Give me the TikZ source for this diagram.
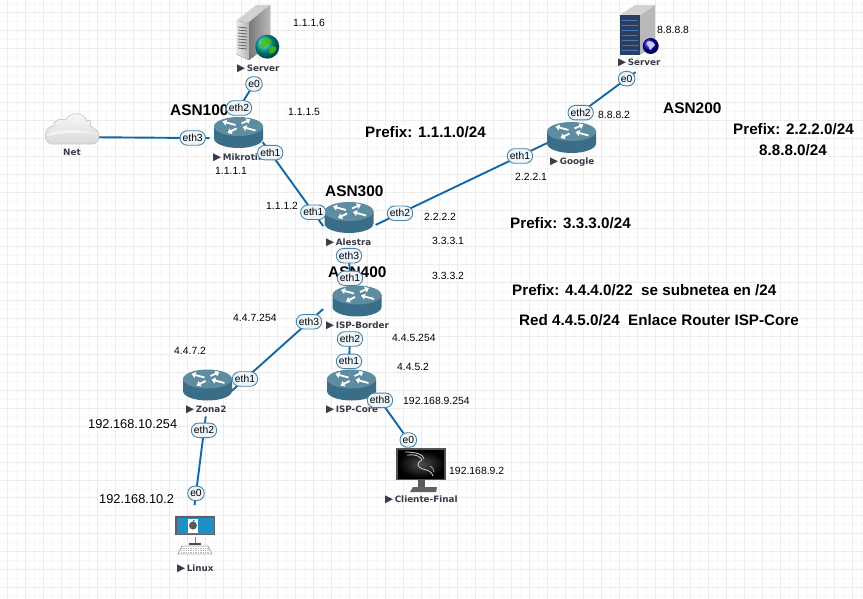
\documentclass[tikz,border=0pt]{standalone}
\usepackage{fontspec}
\setmainfont{Liberation Sans}
\newfontfamily\devfont{DejaVu Sans}
\usetikzlibrary{arrows.meta,shapes.misc,backgrounds}
\pgfdeclarelayer{gridlayer}
\pgfdeclarelayer{linklayer}
\pgfsetlayers{gridlayer,linklayer,main}
\definecolor{linkc}{HTML}{1168A8}
\definecolor{ifdraw}{HTML}{4A82A6}
\definecolor{iffill}{HTML}{EEF6FB}
\definecolor{rtop}{HTML}{5E8DA2}
\definecolor{rbody}{HTML}{3A6E88}
\definecolor{devtxt}{HTML}{3A3A48}
\definecolor{gridc}{HTML}{ECECEC}
\definecolor{gridm}{HTML}{F8F8F8}
\definecolor{macblue}{HTML}{1E90C8}
\definecolor{macframe}{HTML}{6A5A66}
\definecolor{srvfront}{HTML}{2C3E5C}
\definecolor{srvstripe}{HTML}{3F78C4}
\tikzset{
  linkline/.style={draw=linkc,line width=1.9pt},
  iface/.style={rounded rectangle,draw=ifdraw,fill=iffill,line width=.9pt,inner xsep=1.6pt,inner ysep=1pt,minimum height=14.5pt,minimum width=15pt,font=\fontsize{10.3}{11}\selectfont,text=black},
  iplabel/.style={anchor=west,fill=white,inner sep=1pt,font=\fontsize{10.4}{12}\selectfont,text=black},
  iplarge/.style={anchor=west,fill=white,inner sep=1pt,font=\fontsize{12.8}{14}\selectfont,text=black},
  asnlabel/.style={anchor=west,inner sep=0pt,font=\bfseries\fontsize{15.4}{17}\selectfont,text=black},
  prefixtxt/.style={anchor=west,fill=white,inner sep=1pt,font=\bfseries\fontsize{15.2}{17}\selectfont,text=black},
  devlabel/.style={anchor=west,inner sep=0pt,font=\devfont\bfseries\fontsize{8.8}{10}\selectfont,text=devtxt},
  iconbox/.style={rectangle,inner sep=0pt,outer sep=0pt},
  rarrow/.style={draw=white,line width=1.8pt,-{Triangle[length=4pt,width=6pt]}}
}
\newcommand{\tri}{{\fontsize{10.5}{10}\selectfont ▶}\hspace{1.5pt}}
\newcommand{\rtr}[5]{% name, x, y, label x, label
  \node[iconbox,minimum width=49pt,minimum height=31pt] (#1) at (#2,#3) {};
  \begin{scope}[shift={(#2,#3)}]
    \fill[rbody] (-24.5,-6) -- (-24.5,6) arc[x radius=24.5,y radius=9.5,start angle=180,end angle=0] -- (24.5,-6) -- cycle;
    \fill[rtop] (0,-6) ellipse[x radius=24.5,y radius=9.5];
    \draw[rarrow] (-3,-7.5) -- (-16,-11);
    \draw[rarrow] (3,-9) -- (12,-13);
    \draw[rarrow] (-2,-4) -- (-11,0.5);
    \draw[rarrow] (17,-2) -- (4,-5.5);
  \end{scope}
  \node[devlabel] (#1-l) at (#4,#3+25) {\tri #5};
}
\begin{document}
\begin{tikzpicture}[x=1pt,y=-1pt]
\useasboundingbox (0,0) rectangle (863,599);
\begin{pgfonlayer}{gridlayer}
  \fill[white] (0,0) rectangle (863,599);
  \foreach \k in {0,...,9}{
    \draw[gridm,line width=.9pt] (699.3+18*\k,0) -- (699.3+18*\k,599);
  }
  \foreach \k in {0,...,38}{
    \draw[gridm,line width=.9pt] (682.3-18*\k,0) -- (682.3-18*\k,599);
  }
  \foreach \k in {0,...,6}{
    \draw[gridm,line width=.9pt] (0,506.3+18*\k) -- (863,506.3+18*\k);
  }
  \foreach \k in {0,...,27}{
    \draw[gridm,line width=.9pt] (0,489.3-18*\k) -- (863,489.3-18*\k);
  }
  \foreach \k in {0,...,9}{
    \draw[gridc,line width=.9pt] (690.3+18*\k,0) -- (690.3+18*\k,599);
  }
  \foreach \k in {0,...,38}{
    \draw[gridc,line width=.9pt] (673.3-18*\k,0) -- (673.3-18*\k,599);
  }
  \foreach \k in {0,...,6}{
    \draw[gridc,line width=.9pt] (0,497.3+18*\k) -- (863,497.3+18*\k);
  }
  \foreach \k in {0,...,27}{
    \draw[gridc,line width=.9pt] (0,480.3-18*\k) -- (863,480.3-18*\k);
  }
\end{pgfonlayer}

% --- text under the interface ovals
\node[asnlabel] (asn100) at (170,110) {ASN100};
\node[asnlabel] (asn300) at (325,191) {ASN300};
\node[asnlabel] (asn400) at (328,272) {ASN400};
\node[asnlabel] (asn200) at (663,108) {ASN200};

% --- routers
\rtr{mik}{238.5}{132.5}{213}{Mikrotik}
\rtr{ale}{349}{217.5}{326}{Alestra}
\rtr{bor}{357}{301}{326}{ISP-Border}
\rtr{goo}{571.5}{137.5}{550}{Google}
\rtr{cor}{351.5}{385}{326}{ISP-Core}
\rtr{zon}{207.5}{385}{186}{Zona2}

% --- server 1
\node[iconbox,minimum width=43pt,minimum height=54pt] (srva) at (257.5,32) {};
\fill[left color=white!85!gray,right color=gray!60] (236,21) -- (249,22) -- (249,60) -- (236,54) -- cycle;
\fill[left color=gray!95!black,right color=gray!55] (249,22) -- (270,5) -- (270,44) -- (249,60) -- cycle;
\fill[gray!35] (236,21) -- (256,5) -- (270,5) -- (249,22) -- cycle;
\foreach \v in {27,30,...,48}{\draw[gray!75!black,line width=.8pt] (238,\v) -- (247,\v+1);}
\shade[ball color=teal!70!cyan] (267.3,46.7) circle[radius=12];
\fill[green!50!olive,opacity=.85] (261,41) .. controls (265,37) and (270,38) .. (272,41) .. controls (270,46) and (265,44) .. (263,49) .. controls (260,47) and (260,44) .. (261,41) -- cycle;
\fill[green!50!olive,opacity=.85] (270,47) .. controls (274,45) and (277,47) .. (276,50) .. controls (274,54) and (270,55) .. (269,52) -- cycle;
\node[devlabel] (srva-l) at (237,69) {\tri Server};

% --- server 2
\node[iconbox,minimum width=38pt,minimum height=50pt] (srvb) at (639,30) {};
\fill[gray!55] (640,15) -- (655,5) -- (655,45) -- (640,55) -- cycle;
\fill[gray!35] (620,15) -- (635,5) -- (655,5) -- (640,15) -- cycle;
\fill[srvfront] (620,15) rectangle (640,55);
\foreach \v in {21,26,...,51}{\draw[srvstripe,line width=1pt] (622,\v) -- (638,\v);}
\shade[ball color=blue!70!black] (650.7,46) circle[radius=8];
\fill[white!80!blue] (647,42) .. controls (650,40) and (654,42) .. (655,45) .. controls (652,46) and (652,50) .. (650,50) .. controls (650,47) and (647,46) .. (647,42) -- cycle;
\node[devlabel] (srvb-l) at (618,63) {\tri Server};

% --- cloud
\node[iconbox,minimum width=54pt,minimum height=31pt] (net) at (72,128.5) {};
\draw[gray!45,line width=.7pt,top color=white!96!gray,bottom color=gray!30]
  (52,144) .. controls (46,144) and (44,136) .. (46,132)
  .. controls (47,128) and (51,126) .. (54,126)
  .. controls (53,120) and (60,118) .. (66,120)
  .. controls (68,112) and (84,111) .. (87,121)
  .. controls (90,119) and (92,122) .. (90,126)
  .. controls (93,128) and (99,130) .. (99,136)
  .. controls (99,141) and (96,144) .. (92,144) -- cycle;
\fill[white,opacity=.55] (47,134) .. controls (60,128) and (85,129) .. (97,135) .. controls (88,131) and (60,133) .. (47,136) -- cycle;
\node[devlabel] (net-l) at (63,152) {Net};

% --- Kali PC
\node[iconbox,minimum width=50pt,minimum height=44pt] (kali) at (421,470) {};
\fill[gray!65!black] (396,448) rectangle (446,480);
\shade[inner color=black!70,outer color=black] (398,450) rectangle (444,478);
\draw[cyan!15!gray!45,line width=.8pt] (405,452) .. controls (414,452) and (424,454) .. (424,459);
\draw[cyan!15!gray!45,line width=.8pt] (407,455) .. controls (414,454) and (421,456) .. (422,460) .. controls (416,462) and (417,468) .. (423,469) .. controls (428,470) and (432,472) .. (433,476);
\draw[cyan!15!gray!45,line width=.6pt] (430,466) .. controls (432,467) and (434,469) .. (434,472);
\fill[gray!70!black] (418,480) rectangle (425,488);
\fill[gray!75!black] (410,492) -- (413,487) -- (437,487) -- (436,492) -- cycle;
\node[devlabel] (kali-l) at (385,499.5) {\tri Cliente-Final};

% --- Mac PC
\node[iconbox,minimum width=40pt,minimum height=38pt] (mac) at (195,535) {};
\fill[macframe] (175,516) rectangle (215,535);
\fill[macblue] (176.5,518) rectangle (213.5,533.5);
\fill[white] (188,518.5) rectangle (198,533);
\fill[gray!70!black] (193,525.5) circle[radius=4];
\draw[gray!70!black,line width=.8pt] (193,521.5) -- (194.5,520);
\draw[gray,line width=.9pt] (195,537) -- (195,543);
\draw[gray!60!black,line width=1.1pt] (189,544) -- (201,544);
\draw[gray!70,fill=white,line width=.7pt] (182,546) -- (208,546) -- (212,554) -- (178,554) -- cycle;
\foreach \v in {548,550,552}{\draw[gray!55,densely dotted,line width=.7pt] (181,\v) -- (209,\v);}
\node[devlabel] (mac-l) at (177,568.5) {\tri Linux};

% --- addresses
\node[iplabel] (a1) at (292,23) {1.1.1.6};
\node[iplabel] (a2) at (287,112) {1.1.1.5};
\node[iplabel] (a3) at (214,171) {1.1.1.1};
\node[iplabel] (a4) at (265,206) {1.1.1.2};
\node[iplabel] (a5) at (423,217) {2.2.2.2};
\node[iplabel] (a6) at (431,241) {3.3.3.1};
\node[iplabel] (a7) at (431,276) {3.3.3.2};
\node[iplabel] (a8) at (232,318) {4.4.7.254};
\node[iplabel] (a9) at (173,351) {4.4.7.2};
\node[iplabel] (a10) at (391,338) {4.4.5.254};
\node[iplabel] (a11) at (396,367) {4.4.5.2};
\node[iplabel] (a12) at (402,401) {192.168.9.254};
\node[iplabel] (a13) at (448,471) {192.168.9.2};
\node[iplarge] (a14) at (87,424) {192.168.10.254};
\node[iplarge] (a15) at (98,499) {192.168.10.2};
\node[iplabel] (a16) at (656,30) {8.8.8.8};
\node[iplabel] (a17) at (597,115) {8.8.8.2};
\node[iplabel] (a18) at (514,177) {2.2.2.1};

% --- prefixes
\node[prefixtxt] (p1) at (364,132) {Prefix: 1.1.1.0/24};
\node[prefixtxt] (p2) at (732,129) {Prefix: 2.2.2.0/24};
\node[prefixtxt] (p3) at (758,150) {8.8.8.0/24};
\node[prefixtxt] (p4) at (509,223) {Prefix: 3.3.3.0/24};
\node[prefixtxt] (p5) at (511,290) {Prefix: 4.4.4.0/22\ \ se subnetea en /24};
\node[prefixtxt] (p6) at (518,320) {Red 4.4.5.0/24\ \ Enlace Router ISP-Core};

% --- interface ovals
\node[iface] (sa0) at (254,84) {e0};
\node[iface] (m2) at (239,108) {eth2};
\node[iface] (m3) at (192.7,138) {eth3};
\node[iface] (m1) at (270.3,152.7) {eth1};
\node[iface] (a-1) at (313.3,212.3) {eth1};
\node[iface] (a-2) at (400,213.3) {eth2};
\node[iface] (a-3) at (349,255.7) {eth3};
\node[iface] (b1) at (350,278.3) {eth1};
\node[iface] (b3) at (309,321.7) {eth3};
\node[iface] (b2) at (350,339) {eth2};
\node[iface] (c1) at (349,361.3) {eth1};
\node[iface] (c8) at (380,400.3) {eth8};
\node[iface] (k0) at (408.3,440) {e0};
\node[iface] (z2) at (204,430.3) {eth2};
\node[iface] (l0) at (196,493.3) {e0};
\node[iface] (z1) at (245,379) {eth1};
\node[iface] (g1) at (520,156) {eth1};
\node[iface] (g2) at (580.7,112.7) {eth2};
\node[iface] (sb0) at (626.7,78.7) {e0};

% --- links
\begin{pgfonlayer}{linklayer}
  \draw[linkline,shorten >=-17pt] (net.-18) -- (m3.center);
  \draw[linkline,shorten <=-6pt] (sa0.center) -- (m2.center);
  \draw[linkline,shorten <=-13pt,shorten >=-17pt] (m1.center) -- (a-1.center);
  \draw[linkline,shorten <=-27pt,shorten >=-30pt] (a-2.center) -- (g1.center);
  \draw[linkline,shorten >=-11pt] (g2.center) -- (sb0.center);
  \draw[linkline] (a-3.center) -- (b1.center);
  \draw[linkline,shorten <=-19pt,shorten >=-18pt] (b3.center) -- (z1.center);
  \draw[linkline] (b2.center) -- (c1.center);
  \draw[linkline,shorten >=-8pt] (c8.center) -- (k0.center);
  \draw[linkline,shorten <=-14pt,shorten >=-12pt] (z2.center) -- (l0.center);
\end{pgfonlayer}
\end{tikzpicture}
\end{document}
